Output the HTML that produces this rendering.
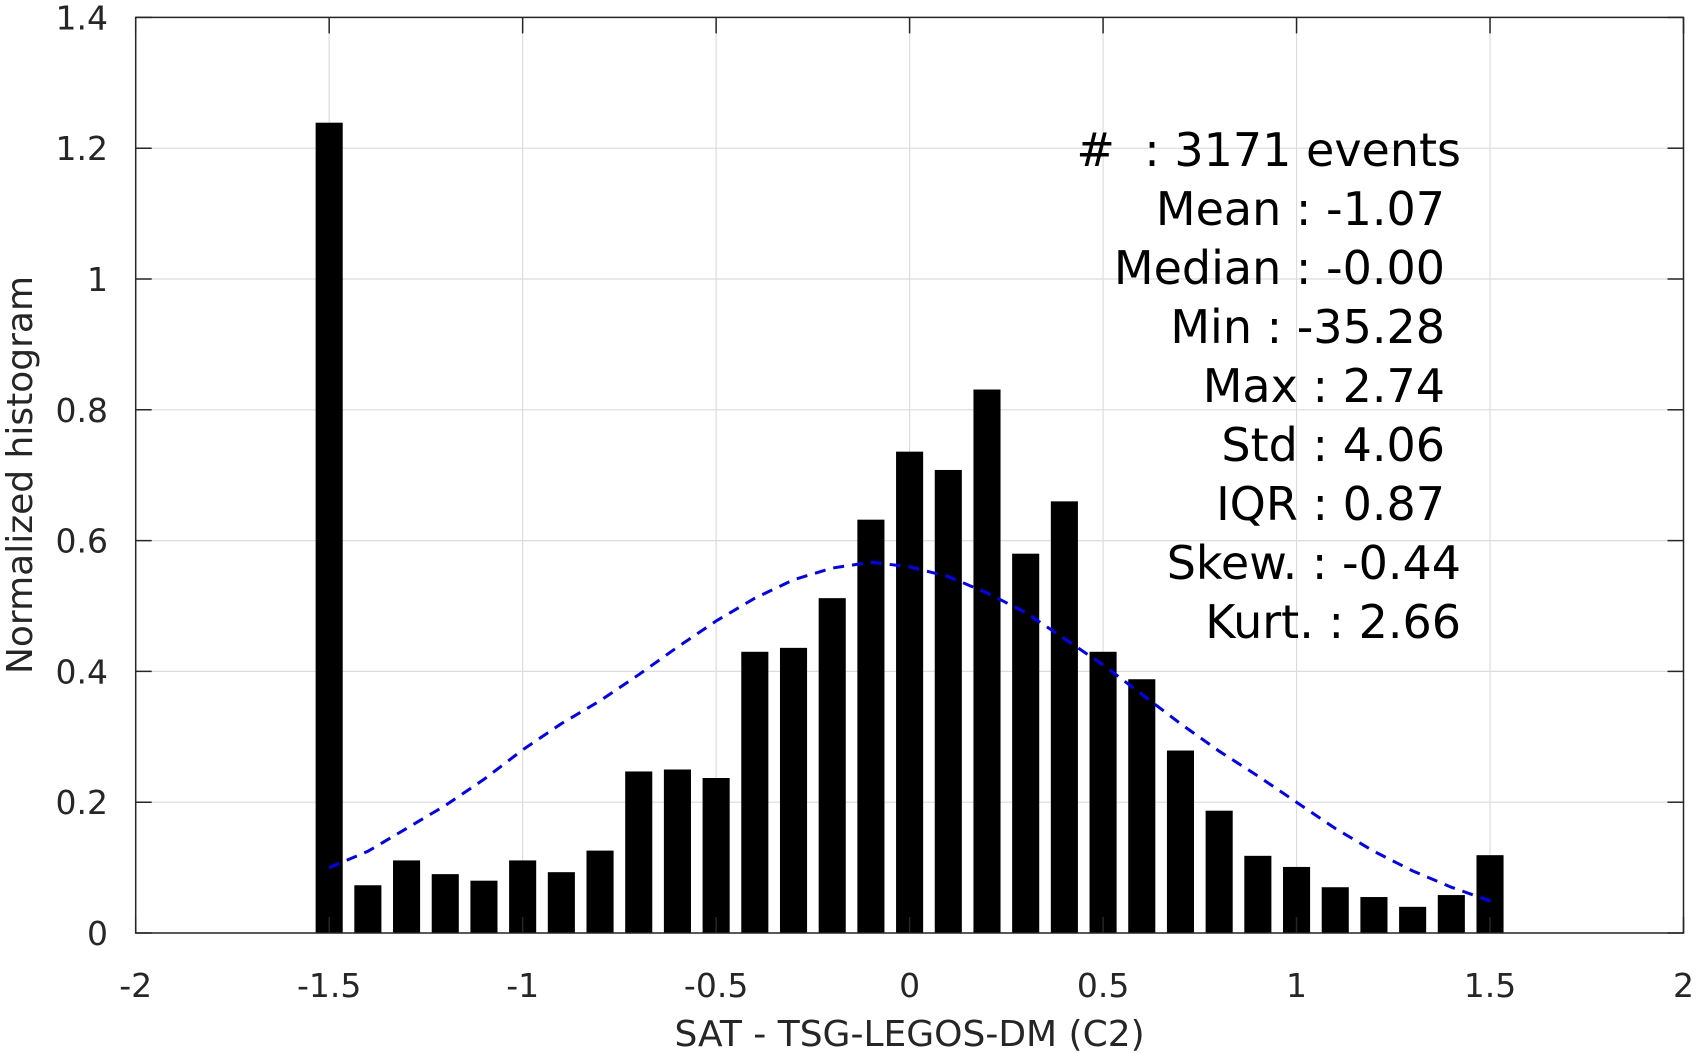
<!DOCTYPE html>
<html><head><meta charset="utf-8"><style>
html,body{margin:0;padding:0;background:#fff;}
svg{display:block;font-family:"DejaVu Sans","Liberation Sans",sans-serif;}
</style></head><body>
<svg id="chart" width="1703" height="1053" viewBox="0 0 1703 1053"></svg>
<script>
const binCenters=[-1.5,-1.4,-1.3,-1.2,-1.1,-1.0,-0.9,-0.8,-0.7,-0.6,-0.5,-0.4,-0.3,-0.2,-0.1,0,0.1,0.2,0.3,0.4,0.5,0.6,0.7,0.8,0.9,1.0,1.1,1.2,1.3,1.4,1.5];
const binValues=[1.239,0.073,0.111,0.090,0.080,0.111,0.093,0.126,0.247,0.250,0.237,0.430,0.436,0.512,0.632,0.736,0.708,0.831,0.580,0.660,0.430,0.388,0.279,0.187,0.118,0.101,0.070,0.055,0.040,0.058,0.119];
const fitX=[-1.5,-1.4,-1.3,-1.2,-1.1,-1.0,-0.9,-0.8,-0.7,-0.6,-0.5,-0.4,-0.3,-0.2,-0.1,0,0.1,0.2,0.3,0.4,0.5,0.6,0.7,0.8,0.9,1.0,1.1,1.2,1.3,1.4,1.52];
const fitY=[0.100,0.125,0.160,0.195,0.235,0.280,0.320,0.355,0.395,0.437,0.477,0.512,0.540,0.558,0.567,0.560,0.545,0.520,0.490,0.450,0.410,0.365,0.320,0.278,0.240,0.200,0.160,0.125,0.095,0.070,0.045];
const xTicks=[-2,-1.5,-1,-0.5,0,0.5,1,1.5,2];
const xTickLabels=["-2","-1.5","-1","-0.5","0","0.5","1","1.5","2"];
const yTicks=[0,0.2,0.4,0.6,0.8,1,1.2,1.4];
const yTickLabels=["0","0.2","0.4","0.6","0.8","1","1.2","1.4"];
const statLines=["#  : 3171 events","Mean : -1.07","Median : -0.00","Min : -35.28","Max : 2.74","Std : 4.06","IQR : 0.87","Skew. : -0.44","Kurt. : 2.66"];
const binWidth=0.07;

const L=135.7,R=1683.5,T=17.4,B=933;
const X=v=>L+(v+2)/4*(R-L);
const Y=v=>B-v/1.4*(B-T);
const NS="http://www.w3.org/2000/svg";
const svg=document.getElementById('chart');
function mk(tag,attrs,parent){const e=document.createElementNS(NS,tag);for(const k in attrs)e.setAttribute(k,attrs[k]);(parent||svg).appendChild(e);return e;}

// grid
xTicks.forEach(t=>{const l=mk('line',{x1:X(t),x2:X(t),y1:T,y2:B,stroke:'#dcdcdc','stroke-width':1.2});

});
yTicks.forEach(t=>{const l=mk('line',{x1:L,x2:R,y1:Y(t),y2:Y(t),stroke:'#dcdcdc','stroke-width':1.2});

});

// bars
binCenters.forEach((c,i)=>{const v=binValues[i];
const r=mk('rect',{x:X(c-binWidth/2),y:Y(v),width:X(c+binWidth/2)-X(c-binWidth/2),height:Y(0)-Y(v),fill:'#000'});

});

// fit curve
const pts=fitX.map((x,i)=>X(x).toFixed(1)+','+Y(fitY[i]).toFixed(1)).join(' ');
const pl=mk('polyline',{points:pts,fill:'none',stroke:'#0000ff','stroke-width':3,'stroke-dasharray':'11,8'});



// axes box
const box=mk('rect',{x:L,y:T,width:R-L,height:B-T,fill:'none',stroke:'#262626','stroke-width':1.5});



// ticks & labels
xTicks.forEach((t,i)=>{
mk('line',{x1:X(t),x2:X(t),y1:B,y2:B-16,stroke:'#262626','stroke-width':1.5});
mk('line',{x1:X(t),x2:X(t),y1:T,y2:T+16,stroke:'#262626','stroke-width':1.5});
const tx=mk('text',{x:X(t),y:997,'text-anchor':'middle','font-size':33,fill:'#262626'});
tx.textContent=xTickLabels[i];

});
yTicks.forEach((t,i)=>{
mk('line',{x1:L,x2:L+16,y1:Y(t),y2:Y(t),stroke:'#262626','stroke-width':1.5});
mk('line',{x1:R,x2:R-16,y1:Y(t),y2:Y(t),stroke:'#262626','stroke-width':1.5});
const tx=mk('text',{x:108,y:Y(t)+12,'text-anchor':'end','font-size':33,fill:'#262626'});
tx.textContent=yTickLabels[i];

});

// axis titles
const xt=mk('text',{x:(L+R)/2,y:1046,'text-anchor':'middle','font-size':36,fill:'#262626'});
xt.textContent='SAT - TSG-LEGOS-DM (C2)';


const yt=mk('text',{x:0,y:0,'text-anchor':'middle','font-size':36,fill:'#262626',transform:'translate(32,475) rotate(-90)'});
yt.textContent='Normalized histogram';



// stats
const anchors=[1461,1445,1445,1445,1445,1445,1445,1461,1461];
statLines.forEach((s,i)=>{
const tx=mk('text',{x:anchors[i],y:166+i*59,'text-anchor':'end','font-size':46,fill:'#000'});
tx.setAttribute('xml:space','preserve');
tx.style.whiteSpace='pre';
tx.textContent=s;

});
</script>
</body></html>
